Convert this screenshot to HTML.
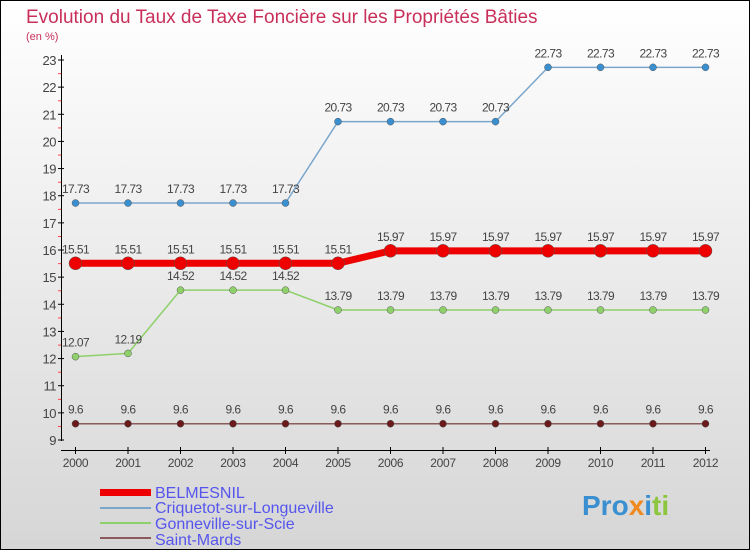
<!DOCTYPE html>
<html><head><meta charset="utf-8"><style>
body{margin:0}
#c{width:750px;height:550px;position:relative;box-sizing:border-box;border:1px solid #000;background:linear-gradient(#fff,#d6d6d6);font-family:"Liberation Sans",sans-serif;overflow:hidden}
</style></head><body>
<div id="c">
<svg id="s" width="750" height="550" style="position:absolute;left:-1px;top:-1px;font-family:'Liberation Sans',sans-serif">
<text x="26" y="23" font-size="19" fill="#c8305a">Evolution du Taux de Taxe Foncière sur les Propriétés Bâties</text>
<text x="26" y="40" font-size="11" fill="#c8305a">(en %)</text>
<g id="g"></g>
<g>
<rect x="100" y="489" width="51" height="7" fill="#e00"/>
<line x1="100" y1="508" x2="151" y2="508" stroke="#7aa6cc" stroke-width="2"/>
<line x1="100" y1="523" x2="151" y2="523" stroke="#8ed06a" stroke-width="2"/>
<line x1="100" y1="538" x2="151" y2="538" stroke="#8b5a5a" stroke-width="2"/>
<g font-size="16" fill="#5555ee">
<text x="155" y="498">BELMESNIL</text>
<text x="155" y="513">Criquetot-sur-Longueville</text>
<text x="155" y="529">Gonneville-sur-Scie</text>
<text x="155" y="545">Saint-Mards</text>
</g></g>
<text x="582" y="515" font-size="28" font-weight="bold"><tspan fill="#3a8fd0">Pro</tspan><tspan fill="#f08a20">x</tspan><tspan fill="#3a8fd0">i</tspan><tspan fill="#8cc63f">ti</tspan></text>
</svg>
<script>
const years=[2000,2001,2002,2003,2004,2005,2006,2007,2008,2009,2010,2011,2012];
const belmesnil=[15.51,15.51,15.51,15.51,15.51,15.51,15.97,15.97,15.97,15.97,15.97,15.97,15.97];
const criquetot=[17.73,17.73,17.73,17.73,17.73,20.73,20.73,20.73,20.73,22.73,22.73,22.73,22.73];
const gonneville=[12.07,12.19,14.52,14.52,14.52,13.79,13.79,13.79,13.79,13.79,13.79,13.79,13.79];
const saintMards=[9.6,9.6,9.6,9.6,9.6,9.6,9.6,9.6,9.6,9.6,9.6,9.6,9.6];
const yTicks=[9,10,11,12,13,14,15,16,17,18,19,20,21,22,23];
const NS="http://www.w3.org/2000/svg",g=document.getElementById('g');
const X=i=>75.5+i*52.5, Y=v=>440-(v-9)*(380/14);
function mk(t,a,name){const e=document.createElementNS(NS,t);for(const k in a)e.setAttribute(k,a[k]);


g.appendChild(e);return e;}
mk('line',{x1:61.5,y1:55,x2:61.5,y2:441,stroke:'#000'},'y-axis');
mk('line',{x1:61,y1:450.5,x2:710,y2:450.5,stroke:'#000'},'x-axis');
yTicks.forEach(v=>{const y=Y(v);mk('line',{x1:58,y1:y,x2:64,y2:y,stroke:'#000'},'y-tick');
if(v<23)mk('line',{x1:58,y1:y-13.5,x2:61,y2:y-13.5,stroke:'#f44'},'y-minor-tick');
const t=mk('text',{x:56,y:y+5,'font-size':13,'text-anchor':'end',fill:'#444','letter-spacing':-0.5},'y-tick-label');t.textContent=v;});
years.forEach((yr,i)=>{mk('line',{x1:X(i),y1:447,x2:X(i),y2:454,stroke:'#000'},'x-tick');
const t=mk('text',{x:X(i),y:467,'font-size':12,'text-anchor':'middle',fill:'#444','letter-spacing':-0.3},'x-tick-label');t.textContent=yr;});
function series(d,col,w,r,dot,name){
mk('polyline',{points:d.map((v,i)=>X(i)+','+Y(v)).join(' '),fill:'none',stroke:col,'stroke-width':w},name+'-line');
d.forEach((v,i)=>{mk('circle',{cx:X(i),cy:Y(v),r:r,fill:dot,stroke:'#555','stroke-width':0.5},name+'-point');
const t=mk('text',{x:X(i),y:Y(v)-10,'font-size':12,'text-anchor':'middle',fill:'#444','letter-spacing':-0.6},name+'-value-label');t.textContent=v;});}
series(saintMards,'#8b5a5a',1.5,3.5,'#6a1a1a','saint-mards');
series(gonneville,'#8ed06a',1.5,3.5,'#8ed06a','gonneville');
series(criquetot,'#7aa6cc',1.5,3.5,'#3a8fd0','criquetot');
series(belmesnil,'#e00',7,6.5,'#e00','belmesnil');
</script>
</div></body></html>
